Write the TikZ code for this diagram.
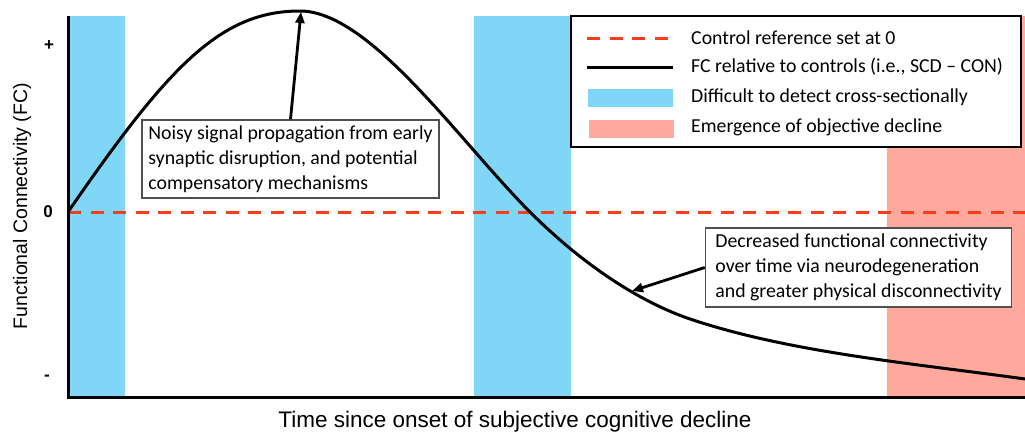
\documentclass[tikz,border=0pt]{standalone}
\usepackage{fontspec}
\setmainfont{Carlito}
\newfontfamily\arialf{Liberation Sans}
\usetikzlibrary{arrows.meta}
\definecolor{bandblue}{RGB}{127,214,247}
\definecolor{bandpink}{RGB}{255,168,158}
\definecolor{refred}{RGB}{250,62,28}
\definecolor{boxgray}{RGB}{80,80,80}
\tikzset{
  refline/.style={refred, line width=3pt, dash pattern=on 13pt off 9.5pt},
  fcline/.style={black, line width=3pt},
  axisline/.style={black, line width=3pt},
  notebox/.style={draw=boxgray, line width=1.5pt, fill=white, align=left, inner sep=0pt,
     font=\fontsize{19.8}{25}\selectfont},
  pointer/.style={black, line width=2.8pt, -{Triangle[length=11pt,width=9pt]}},
  legtext/.style={anchor=west, inner sep=0pt, font=\fontsize{19.8}{22}\selectfont},
  ticklab/.style={font=\arialf\bfseries\fontsize{17}{20}\selectfont, inner sep=0pt},
  ylabstyle/.style={font=\arialf\fontsize{19.5}{22}\selectfont, inner sep=0pt},
  xlabstyle/.style={font=\arialf\fontsize{22.5}{24}\selectfont, inner sep=0pt}
}
\begin{document}
\begin{tikzpicture}[x=1pt,y=-1pt]
\useasboundingbox (0,0) rectangle (1025,434);
% bands
\fill[bandblue] (68,16) rectangle (125,396);
\fill[bandblue] (474,16) rectangle (571,396);
\fill[bandpink] (887,16) rectangle (1025,396);
% reference line
\coordinate (r0) at (68,212);
\coordinate (r1) at (1025,212);
\draw[refline] (r0) -- (r1);
% FC curve
\coordinate (c0) at (68,212);
\coordinate (cpeak) at (300,11);
\coordinate (ccross) at (530,212);
\coordinate (cmid) at (693,320);
\coordinate (cend) at (1025,379);
\draw[fcline] (c0) .. controls (168,67) and (220,11) .. (cpeak)
   .. controls (370,11) and (460,142) .. (ccross)
   .. controls (580,262) and (638,302) .. (cmid)
   .. controls (793,353) and (915,363.6) .. (cend);
% axes
\coordinate (ytop) at (68,16);
\coordinate (orig) at (68,397);
\coordinate (xend) at (1025,397);
\draw[axisline] (ytop) -- (orig) -- (xend);
% tick labels
\node[ticklab] (tplus) at (49,45.5) {+};
\node[ticklab] (tzero) at (48,212) {0};
\node[ticklab] (tminus) at (47,378) {-};
\node[ylabstyle, rotate=90] (ylab) at (22,206) {Functional Connectivity (FC)};
\node[xlabstyle] (xlab) at (515,422) {Time since onset of subjective cognitive decline};
% annotation boxes
\node[notebox, minimum width=297pt, minimum height=78pt] (box1) at (290.5,159)
  {Noisy signal propagation from early\\synaptic disruption, and potential\\compensatory mechanisms};
\node[notebox, minimum width=306pt, minimum height=79pt] (box2) at (858.5,267.5)
  {Decreased functional connectivity\\over time via neurodegeneration\\and greater physical disconnectivity};
\coordinate (peak) at (301,12);
\coordinate (fall) at (632,291);
\draw[pointer] (box1.north) -- (peak);
\draw[pointer] (box2.west) -- (fall);
% legend
\node[draw=black, line width=2.5pt, fill=white, minimum width=450pt, minimum height=131pt, inner sep=0pt] (legend) at (796,81.5) {};
\coordinate (l1a) at (587,38); \coordinate (l1b) at (670,38);
\coordinate (l2a) at (587,67); \coordinate (l2b) at (673,67);
\draw[refline] (l1a) -- (l1b);
\draw[fcline] (l2a) -- (l2b);
\fill[bandblue] (588,89) rectangle (673,107);
\fill[bandpink] (589,120) rectangle (674,138);
\node[legtext] (lt1) at (691,38) {Control reference set at 0};
\node[legtext] (lt2) at (691,67) {FC relative to controls (i.e., SCD – CON)};
\node[legtext] (lt3) at (691,97) {Difficult to detect cross-sectionally};
\node[legtext] (lt4) at (691,127) {Emergence of objective decline};
\end{tikzpicture}
\end{document}
